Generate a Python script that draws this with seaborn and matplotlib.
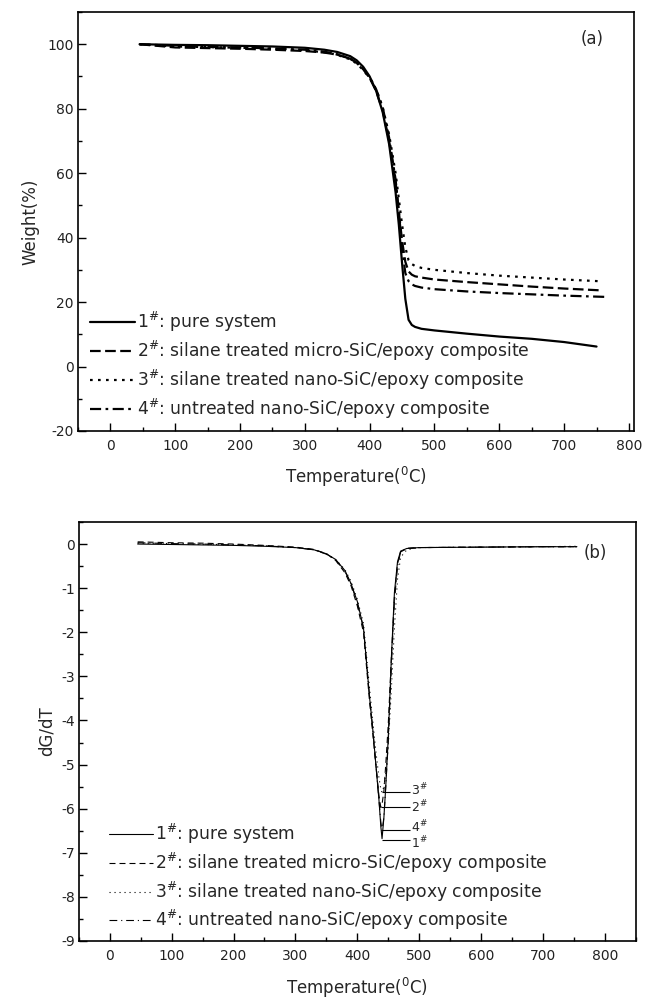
import numpy as np
import pandas as pd
import matplotlib
matplotlib.use("Agg")
import matplotlib.pyplot as plt
import seaborn as sns
from matplotlib.ticker import MultipleLocator

# ---------------- data ----------------
labels = [r"1$^{\#}$: pure system",
          r"2$^{\#}$: silane treated micro-SiC/epoxy composite",
          r"3$^{\#}$: silane treated nano-SiC/epoxy composite",
          r"4$^{\#}$: untreated nano-SiC/epoxy composite"]
short_labels = [r"1$^{\#}$", r"2$^{\#}$", r"3$^{\#}$", r"4$^{\#}$"]

# TG curves (a)
tg_T = [45, 100, 150, 200, 250, 300, 330, 350, 370, 380, 390, 400, 410, 420,
        430, 440, 445, 450, 455, 460, 465, 470, 480, 500, 550, 600, 650, 700]
tg_end_T = [750, 760, 752, 765]
tg_1 = [100, 99.8, 99.7, 99.5, 99.3, 98.9, 98.3, 97.6, 96.3, 95.0, 93.0, 90.0, 85.5, 79.0,
        69.0, 54.0, 44.0, 32.0, 21.0, 14.5, 12.9, 12.3, 11.7, 11.2, 10.2, 9.3, 8.6, 7.6]
tg_2 = [100, 99.0, 98.8, 98.6, 98.3, 97.9, 97.4, 96.8, 95.5, 94.3, 92.3, 89.5, 85.5, 79.5,
        70.0, 57.0, 48.0, 39.0, 32.5, 29.5, 28.5, 28.0, 27.6, 27.0, 26.2, 25.5, 24.8, 24.2]
tg_3 = [100, 99.3, 99.1, 98.9, 98.6, 98.1, 97.5, 96.7, 95.3, 94.0, 92.0, 89.5, 86.0, 80.5,
        72.0, 60.0, 52.0, 44.0, 37.0, 33.0, 31.8, 31.2, 30.6, 30.0, 29.0, 28.2, 27.6, 27.0]
tg_4 = [100, 99.5, 99.2, 99.0, 98.7, 98.3, 97.7, 96.9, 95.5, 94.2, 92.3, 89.8, 86.0, 80.5,
        71.0, 58.0, 48.0, 37.0, 29.0, 26.5, 25.5, 25.0, 24.5, 24.0, 23.3, 22.8, 22.4, 22.0]
tg_end_W = [6.2, 23.6, 26.5, 21.6]

# DTG curves (b)
dtg_T = [45, 100, 150, 200, 250, 300, 330, 350, 365, 380, 390, 400, 410, 420, 425, 430,
         435, 438, 440, 443, 446, 450, 455, 460, 465, 470, 480, 500, 600, 700, 755]
dtg_1 = [0.0, -0.01, -0.02, -0.03, -0.05, -0.08, -0.13, -0.22, -0.35, -0.6, -0.9, -1.3,
         -1.9, -3.5, -4.2, -5.0, -5.8, -6.4, -6.68, -6.2, -5.5, -4.4, -2.6, -1.1, -0.4,
         -0.16, -0.1, -0.08, -0.07, -0.06, -0.06]
dtg_2 = [0.05, 0.03, 0.02, 0.0, -0.03, -0.07, -0.12, -0.22, -0.37, -0.65, -0.95, -1.4,
         -2.0, -3.6, -4.3, -5.0, -5.7, -5.97, -5.9, -5.6, -5.0, -4.1, -2.6, -1.2, -0.45,
         -0.18, -0.1, -0.08, -0.07, -0.06, -0.06]
dtg_3 = [0.02, 0.0, -0.01, -0.02, -0.04, -0.08, -0.13, -0.22, -0.35, -0.58, -0.85, -1.25,
         -1.8, -3.3, -4.0, -4.7, -5.3, -5.55, -5.63, -5.5, -5.2, -4.6, -3.3, -1.9, -0.8,
         -0.3, -0.13, -0.08, -0.07, -0.06, -0.05]
dtg_4 = [0.03, 0.01, 0.0, -0.02, -0.04, -0.08, -0.13, -0.23, -0.36, -0.62, -0.9, -1.35,
         -1.9, -3.5, -4.2, -5.0, -5.8, -6.3, -6.5, -6.2, -5.5, -4.5, -2.8, -1.3, -0.5,
         -0.18, -0.1, -0.08, -0.07, -0.06, -0.06]

# DTG peak minima (for the numbered leader lines)
peak_T = [440, 438, 440, 440]
peak_val = [-6.70, -5.97, -5.63, -6.49]

# ---------------- style ----------------
sns.set_style("ticks")
plt.rcParams["font.family"] = ["DejaVu Sans"]
plt.rcParams["mathtext.default"] = "regular"
plt.rcParams["axes.unicode_minus"] = False
plt.rcParams["axes.linewidth"] = 1.2
plt.rcParams["xtick.direction"] = "in"
plt.rcParams["ytick.direction"] = "in"

fig = plt.figure(figsize=(6.52, 10), dpi=100)
ax1 = fig.add_axes([0.1196, 0.569, 0.853, 0.419])
ax2 = fig.add_axes([0.121, 0.059, 0.854, 0.419])

dash_top = [None, (4.8, 2.0), (1.2, 2.4), (5.0, 2.0, 1.2, 2.0)]
dash_bot = [None, (5.4, 3.6), (1.0, 3.5), (7.0, 3.5, 1.0, 3.5)]

tg_series = [tg_1, tg_2, tg_3, tg_4]
dtg_series = [dtg_1, dtg_2, dtg_3, dtg_4]

for i in range(4):
    T = tg_T + [tg_end_T[i]]
    W = tg_series[i] + [tg_end_W[i]]
    sns.lineplot(x=T, y=W, ax=ax1, color="black", linewidth=1.6, label=labels[i],
                 sort=False)
    if dash_top[i] is not None:
        ax1.lines[-1].set_dashes(dash_top[i])

for i in range(4):
    sns.lineplot(x=dtg_T, y=dtg_series[i], ax=ax2, color="black", linewidth=0.8,
                 label=labels[i], sort=False)
    if dash_bot[i] is not None:
        ax2.lines[-1].set_dashes(dash_bot[i])

# ---------------- axes (a) ----------------
ax1.set_xlim(-50, 808)
ax1.set_ylim(-20, 110)
ax1.set_xticks(np.arange(0, 801, 100))
ax1.xaxis.set_minor_locator(MultipleLocator(50))
ax1.set_yticks(np.arange(-20, 101, 20))
ax1.yaxis.set_minor_locator(MultipleLocator(10))
ax1.set_xlabel(r"Temperature($^{0}$C)", fontsize=12, labelpad=8)
ax1.set_ylabel("Weight(%)", fontsize=12, labelpad=6)
ax1.text(0.925, 0.935, "(a)", transform=ax1.transAxes, fontsize=12, ha="center", va="center")
leg1 = ax1.legend(loc="upper left", bbox_to_anchor=(0.0216, 0.288), frameon=False,
                  fontsize=12.3, handlelength=2.65, handletextpad=0.1,
                  labelspacing=0.27, borderpad=0, borderaxespad=0)

# ---------------- axes (b) ----------------
ax2.set_xlim(-50, 850)
ax2.set_ylim(-9, 0.5)
ax2.set_xticks(np.arange(0, 801, 100))
ax2.xaxis.set_minor_locator(MultipleLocator(50))
ax2.set_yticks(np.arange(-9, 0.1, 1))
ax2.yaxis.set_minor_locator(MultipleLocator(0.5))
ax2.set_xlabel(r"Temperature($^{0}$C)", fontsize=12, labelpad=9)
ax2.set_ylabel("dG/dT", fontsize=12)
ax2.text(0.928, 0.926, "(b)", transform=ax2.transAxes, fontsize=12, ha="center", va="center")
leg2 = ax2.legend(loc="upper left", bbox_to_anchor=(0.054, 0.284), frameon=False,
                  fontsize=12.3, handlelength=2.6, handletextpad=0.1,
                  labelspacing=0.27, borderpad=0, borderaxespad=0)

# leader lines from each peak minimum to its number
label_T = 486
label_dy = [-0.07, 0.0, 0.05, 0.07]
ax2.hlines(peak_val, peak_T, label_T - 1, colors="black", linewidth=0.8)
for i in range(4):
    ax2.text(label_T, peak_val[i] + label_dy[i], short_labels[i], fontsize=9,
             ha="left", va="center")

for ax in (ax1, ax2):
    for s in ax.spines.values():
        s.set_visible(True)
        s.set_color("black")
        s.set_linewidth(1.2)
    ax.tick_params(which="major", length=6, width=1.0, labelsize=10, color="black",
                   top=False, right=False)
    ax.tick_params(axis="x", which="major", pad=6)
    ax.tick_params(axis="y", which="major", pad=3)
    ax.tick_params(which="minor", length=3, width=1.0, color="black",
                   top=False, right=False)
    for t in ax.get_xticklabels() + ax.get_yticklabels():
        t.set_color("#222222")

fig.savefig("out.png", dpi=100, facecolor="white")
